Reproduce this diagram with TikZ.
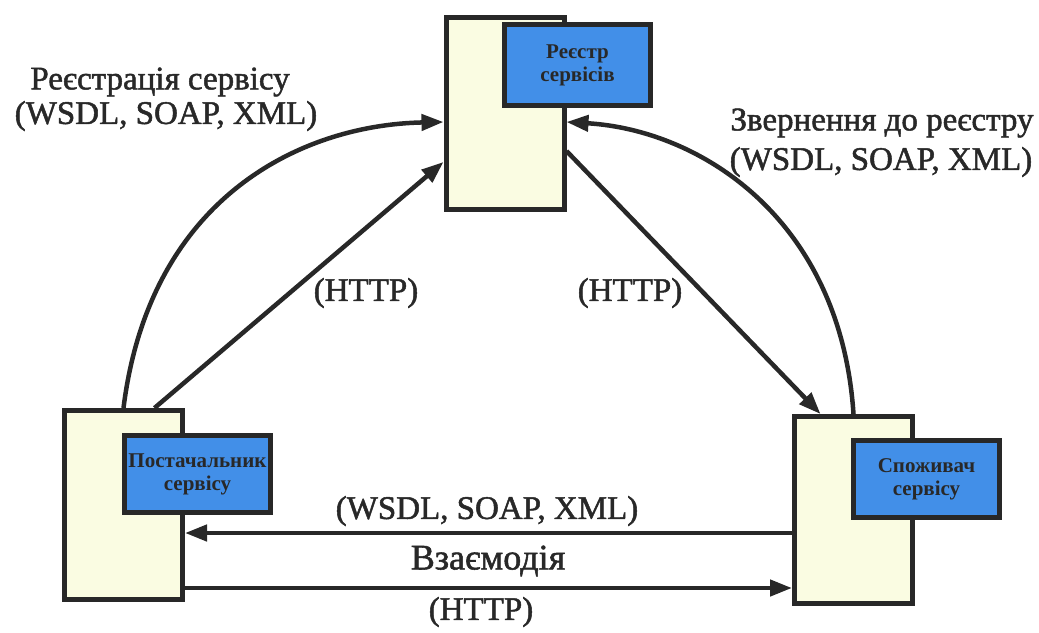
\documentclass[tikz,border=0pt]{standalone}
\usepackage{fontspec}
\setmainfont{Liberation Serif}
\newfontfamily\heavyserif[FakeBold=1.5]{Liberation Serif}
\usetikzlibrary{arrows.meta}
\definecolor{cream}{RGB}{250,252,226}
\definecolor{boxblue}{RGB}{66,143,232}
\definecolor{ink}{RGB}{40,40,40}
\tikzset{
  holder/.style={draw=ink, line width=5pt, fill=cream, rectangle, inner sep=0pt},
  titlebox/.style={draw=ink, line width=5pt, fill=boxblue, rectangle, inner sep=0pt,
    minimum width=146pt, align=center, text=ink, font=\fontsize{21}{23}\selectfont\bfseries},
  conn/.style={draw=ink, line width=4.5pt, -{Triangle[length=22pt,width=16pt]}},
  lbl/.style={text=ink, font=\heavyserif\fontsize{33}{38}\selectfont, inner sep=0pt},
}
\begin{document}
\begin{tikzpicture}[x=1pt,y=-1pt]
\useasboundingbox (0,0) rectangle (1039,632);
% containers
\node[holder, minimum width=118pt, minimum height=192pt] (reg) at (505,113) {};
\node[holder, minimum width=118pt, minimum height=189pt] (prov) at (123.5,505) {};
\node[holder, minimum width=118pt, minimum height=187pt] (cons) at (853.5,510) {};
% title boxes
\node[titlebox, minimum height=81pt] (regb) at (577.5,65) {Реєстр\\сервісів};
\node[titlebox, minimum height=77pt] (provb) at (197.5,474) {Постачальник\\сервісу};
\node[titlebox, minimum height=77pt] (consb) at (926.5,479) {Споживач\\сервісу};
% connectors
\draw[conn] (prov.north) .. controls +(26,-209) and +(-144,3) .. ([yshift=-9pt]reg.west);
\draw[conn] ([xshift=31pt]prov.north) -- ([yshift=-49pt]reg.west);
\draw[conn] ([yshift=-38pt]reg.east) -- ([xshift=-33pt]cons.north);
\draw[conn] (cons.north) .. controls +(-13,-195) and +(134,8) .. ([yshift=-9pt]reg.east);
\draw[conn] ([yshift=-23pt]cons.west) -- ([yshift=-28pt]prov.east);
\draw[conn] ([yshift=-83pt]prov.east) -- ([yshift=-78pt]cons.west);
% labels
\node[lbl] (l1) at (160,82) {Реєстрація сервісу};
\node[lbl] (l2) at (166,116) {(WSDL, SOAP, XML)};
\node[lbl] (r1) at (882,123) {Звернення до реєстру};
\node[lbl] (r2) at (881,162) {(WSDL, SOAP, XML)};
\node[lbl] (h1) at (366,293) {(HTTP)};
\node[lbl] (h2) at (630,293) {(HTTP)};
\node[lbl] (b1) at (487,511) {(WSDL, SOAP, XML)};
\node[lbl, font=\heavyserif\fontsize{36}{40}\selectfont] (b2) at (488,561) {Взаємодія};
\node[lbl] (b3) at (481,612) {(HTTP)};
\end{tikzpicture}
\end{document}
